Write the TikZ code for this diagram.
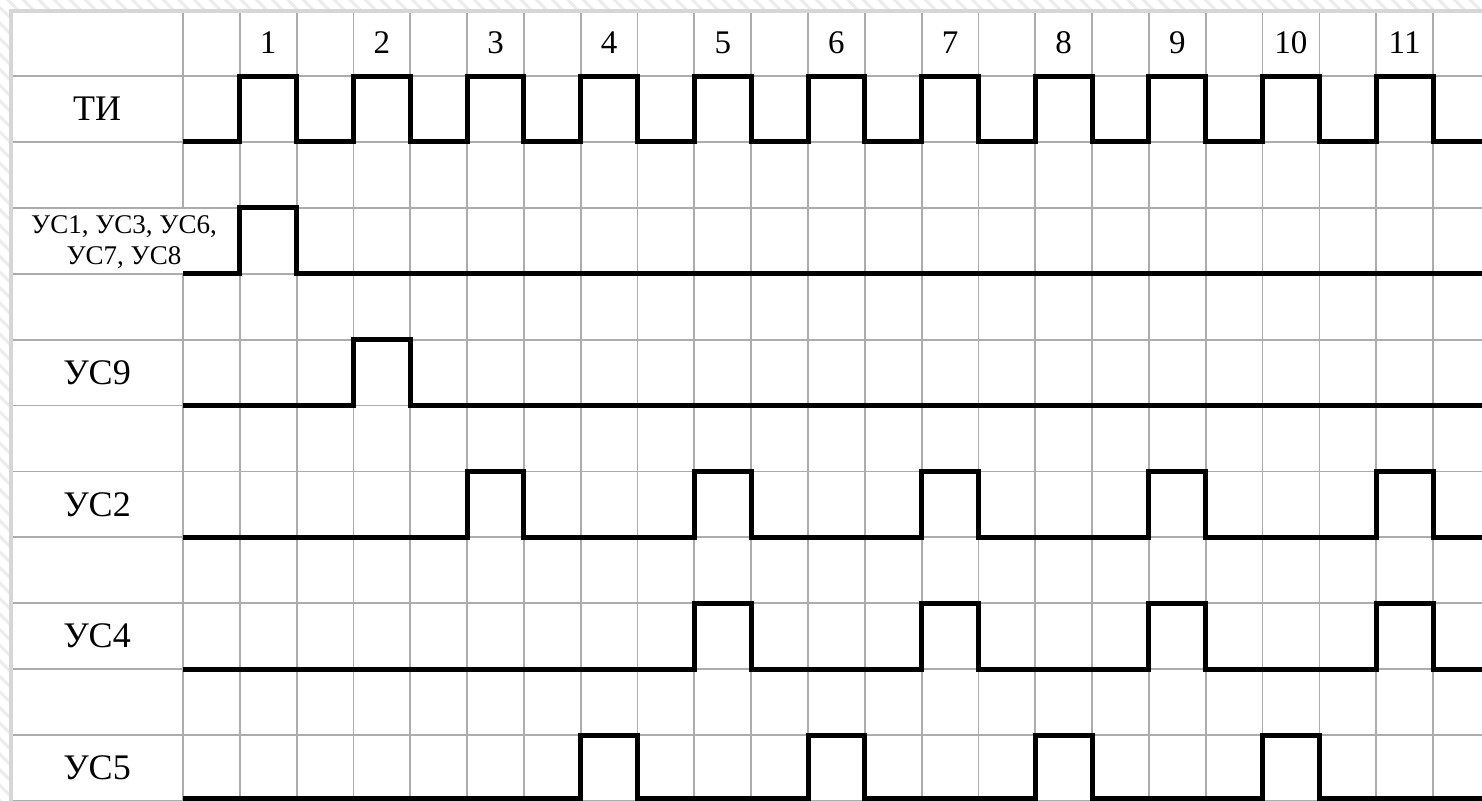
\documentclass[tikz,border=0pt]{standalone}
\usepackage{fontspec}
\setmainfont{Liberation Serif}
\usetikzlibrary{patterns.meta}
\definecolor{gridgray}{RGB}{172,172,172}
\definecolor{bordergray}{RGB}{214,214,214}
\definecolor{hatchgray}{RGB}{236,236,236}
\begin{document}
\begin{tikzpicture}[x=56.82pt,y=-65.9pt,
  gridline/.style={draw=gridgray,line width=1.8pt},
  borderline/.style={draw=bordergray,line width=4.5pt},
  signal/.style={draw=black,line width=5pt,line join=miter},
  lbl/.style={font=\fontsize{36}{40}\selectfont,inner sep=0pt},
  smalllbl/.style={font=\fontsize{27}{31}\selectfont,inner sep=0pt,align=center},
  num/.style={font=\fontsize{33}{36}\selectfont,inner sep=0pt}]
\useasboundingbox (-3.2207,-1.1533) rectangle (22.862,11.0015);
\clip (-3.2207,-1.1533) rectangle (22.862,11.0015);
% hatched background
\fill[pattern={Lines[angle=-45,distance=11pt,line width=3pt]},pattern color=hatchgray]
  (-3.2207,-1.1533) rectangle (22.862,11.0015);
\fill[white] (-3.0271,-0.9863) rectangle (23.5,12);
% grid: horizontal lines
\foreach \r in {0,...,11} \draw[gridline] (-3.0271,\r) -- (23.5,\r);
% grid: vertical lines
\foreach \k in {1,...,23} \draw[gridline] (\k,-0.9863) -- (\k,12);
\draw[gridline] (0,-0.9863) -- (0,2);
\draw[gridline] (0,3) -- (0,12);
% outer border
\draw[borderline] (-3.0271,12) -- (-3.0271,-0.9863) -- (23.5,-0.9863);
% column numbers
\foreach \i in {1,...,11} \node[num] (n\i) at ({2*\i-0.5},-0.5) {\i};
% row labels
\node[lbl] (lTI) at (-1.5135,0.5) {ТИ};
\node[smalllbl] (lUS1) at (-1.0384,2.52) {УС1, УС3, УС6,\\УС7, УС8};
\node[lbl] (lUS9) at (-1.5135,4.5) {УС9};
\node[lbl] (lUS2) at (-1.5135,6.5) {УС2};
\node[lbl] (lUS4) at (-1.5135,8.5) {УС4};
\node[lbl] (lUS5) at (-1.5135,10.5) {УС5};
% signals
\draw[signal] (0,1) foreach \c in {1,3,...,21} { -- (\c,1) -- (\c,0) -- (\c+1,0) -- (\c+1,1) } -- (23.5,1);
\draw[signal] (0,3) -- (1,3) -- (1,2) -- (2,2) -- (2,3) -- (23.5,3);
\draw[signal] (0,5) -- (3,5) -- (3,4) -- (4,4) -- (4,5) -- (23.5,5);
\draw[signal] (0,7) foreach \c in {5,9,...,21} { -- (\c,7) -- (\c,6) -- (\c+1,6) -- (\c+1,7) } -- (23.5,7);
\draw[signal] (0,9) foreach \c in {9,13,...,21} { -- (\c,9) -- (\c,8) -- (\c+1,8) -- (\c+1,9) } -- (23.5,9);
\draw[signal] (0,10.97) foreach \c in {7,11,...,19} { -- (\c,10.97) -- (\c,10) -- (\c+1,10) -- (\c+1,10.97) } -- (23.5,10.97);
\end{tikzpicture}
\end{document}
